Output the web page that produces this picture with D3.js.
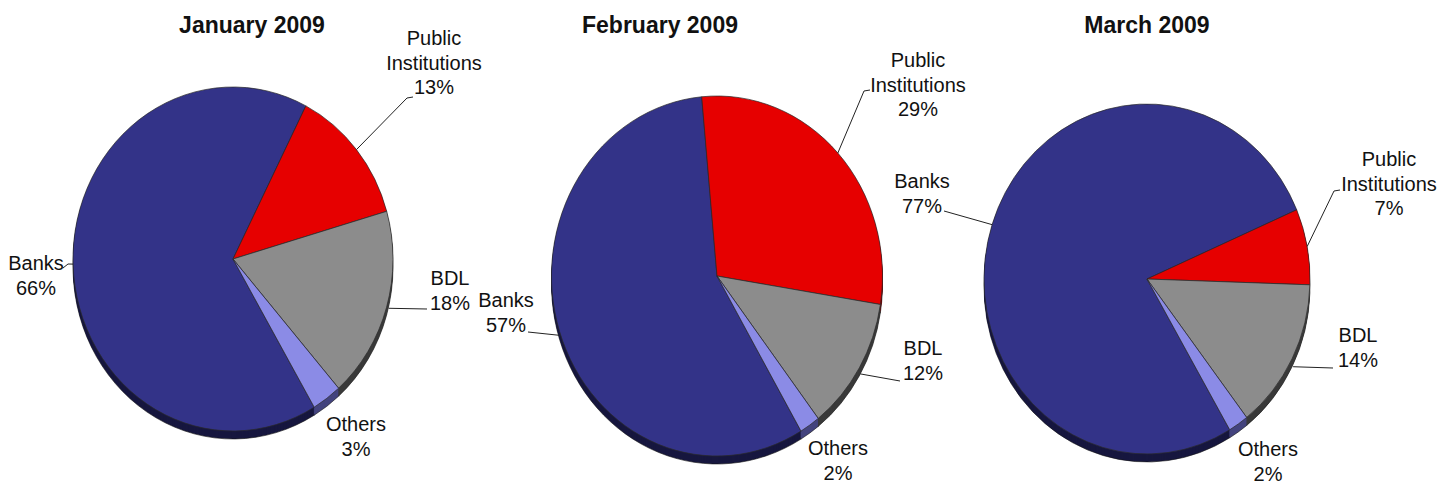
<!DOCTYPE html>
<html>
<head>
<meta charset="utf-8">
<script src="https://cdn.jsdelivr.net/npm/d3@7/dist/d3.min.js"></script>
<style>
  html, body { margin: 0; padding: 0; background: #fff; }
  svg { display: block; font-family: "Liberation Sans", Arial, Helvetica, sans-serif; }
</style>
</head>
<body>
<svg id="chart" width="1442" height="485"></svg>
<script>
// Holders of Lebanese treasury bills, shares per month (%)
const categories = ["Banks", "Public Institutions", "BDL", "Others"];
const titles = ["January 2009", "February 2009", "March 2009"];
const january = [66, 13, 18, 3];
const february = [57, 29, 12, 2];
const march = [77, 7, 14, 2];
const months = [january, february, march];

// Slice colours: top face and darker extruded side
const topColors = ["#333388", "#e60000", "#8c8c8c", "#8b8be6"];
const sideColors = ["#17173f", "#700000", "#3a3a3a", "#44447e"];

// Pie placement (ellipse centre and radii) and title anchor
const pies = [
  { cx: 233,  cy: 259, rx: 160,   ry: 172, titleX: 252 },
  { cx: 717,  cy: 276, rx: 165.5, ry: 180, titleX: 660 },
  { cx: 1147, cy: 279, rx: 163,   ry: 175, titleX: 1147 }
];
const depth = 8;                                 // thickness of the 3D rim
const rotation = 149.5 * Math.PI / 180;          // angle where the first slice starts

// Label placement per pie, per category: text centre x, first baseline y,
// leader path points (from the text side) and an optional shift of the pie end
const labelLayout = [
  [
    { x: 36,  y: 270, leader: [[63, 268], [68, 264]] },
    { x: 434, y: 45,  leader: [[413, 97], [407, 98]] },
    { x: 450, y: 285, leader: [[427, 309]], shift: [2, 1] },
    { x: 356, y: 431, leader: null }
  ],
  [
    { x: 506, y: 307, leader: [[528, 332]], shift: [0, 4] },
    { x: 918, y: 67,  leader: [[870, 90], [864, 91]] },
    { x: 923, y: 355, leader: [[900, 381]], shift: [1, 6] },
    { x: 838, y: 455, leader: null }
  ],
  [
    { x: 922,  y: 188, leader: [[944, 211]] },
    { x: 1389, y: 166, leader: [[1340, 190], [1334, 191]] },
    { x: 1358, y: 342, leader: [[1333, 368]], shift: [1, 8] },
    { x: 1268, y: 456, leader: null }
  ]
];

const svg = d3.select("#chart");
const R = 100;
const pie = d3.pie().sort(null).value(d => d.value)
  .startAngle(rotation).endAngle(rotation + 2 * Math.PI);
const arc = d3.arc().innerRadius(0).outerRadius(R);

months.forEach((values, i) => {
  const p = pies[i];
  const data = categories.map((c, j) => ({ category: c, value: values[j], idx: j }));
  const arcs = pie(data);
  const g = svg.append("g");

  // extruded rim: stacked copies of the pie in the side colours
  for (let k = depth; k >= 1; k--) {
    g.append("g")
      .attr("transform", `translate(${p.cx},${p.cy + k}) scale(${p.rx / R},${p.ry / R})`)
      .selectAll("path").data(arcs).join("path")
      .attr("d", arc)
      .attr("fill", d => sideColors[d.data.idx])
      .attr("stroke", k === depth ? "#111" : "none")
      .attr("stroke-width", 0.6)
      .attr("vector-effect", "non-scaling-stroke");
  }

  // top face
  g.append("g")
    .attr("transform", `translate(${p.cx},${p.cy}) scale(${p.rx / R},${p.ry / R})`)
    .selectAll("path").data(arcs).join("path")
    .attr("d", arc)
    .attr("fill", d => topColors[d.data.idx])
    .attr("stroke", "#2a2a2a")
    .attr("stroke-width", 0.7)
    .attr("stroke-linejoin", "round")
    .attr("vector-effect", "non-scaling-stroke");

  // title
  svg.append("text")
    .attr("x", p.titleX).attr("y", 33)
    .attr("text-anchor", "middle")
    .attr("font-weight", "bold")
    .attr("font-size", 23)
    .attr("fill", "#111")
    .text(titles[i]);

  // labels with leader lines
  arcs.forEach(a => {
    const L = labelLayout[i][a.data.idx];
    const mid = (a.startAngle + a.endAngle) / 2;
    const sh = L.shift || [0, 0];
    const px = p.cx + p.rx * Math.sin(mid) + sh[0];
    const py = p.cy - p.ry * Math.cos(mid) + sh[1];

    if (L.leader) {
      const pts = [[px, py]].concat(L.leader.slice().reverse());
      svg.append("path")
        .attr("d", d3.line()(pts))
        .attr("fill", "none")
        .attr("stroke", "#222")
        .attr("stroke-width", 1);
    }

    const lines = a.data.category.split(" ").concat([a.data.value + "%"]);
    const t = svg.append("text")
      .attr("text-anchor", "middle")
      .attr("font-size", 20)
      .attr("fill", "#111");
    lines.forEach((s, n) => {
      t.append("tspan").attr("x", L.x).attr("y", L.y + n * 24.5).text(s);
    });
  });
});
</script>
</body>
</html>
